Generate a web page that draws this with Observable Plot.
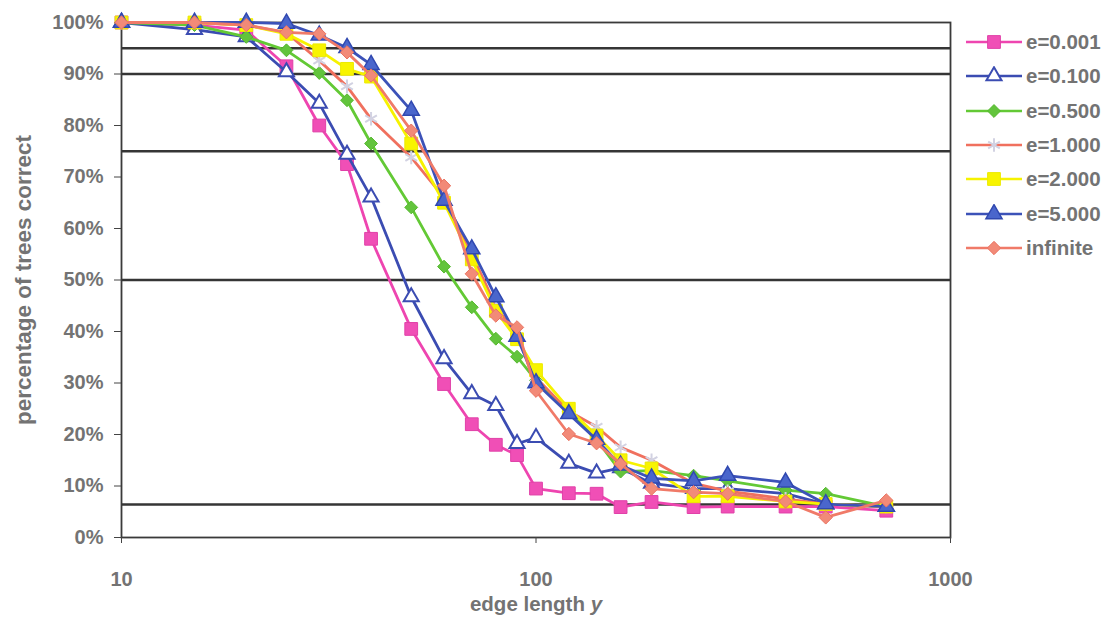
<!DOCTYPE html>
<html>
<head>
<meta charset="utf-8">
<script src="https://cdn.jsdelivr.net/npm/d3@7"></script>
<script src="https://cdn.jsdelivr.net/npm/@observablehq/plot@0.6"></script>
<style>
  html, body { margin: 0; padding: 0; background: #fff; }
  #wrap { position: relative; width: 1110px; height: 627px; }
  #legend { position: absolute; left: 962px; top: 25px; font-family: "Liberation Sans", Arial, sans-serif; font-weight: bold; font-size: 20.5px; color: #737373; }
  .row { display: flex; align-items: center; height: 34.3px; }
  .row svg { margin-right: 4px; }
</style>
</head>
<body>
<div id="wrap">
  <div id="chart"></div>
  <div id="legend"></div>
</div>
<script>
// ---- data ----
const edgeLengths = [10, 15, 20, 25, 30, 35, 40, 50, 60, 70, 80, 90, 100, 120, 140, 160, 190, 240, 290, 400, 500, 700];

const seriesNames = ["e=0.001", "e=0.100", "e=0.500", "e=1.000", "e=2.000", "e=5.000", "infinite"];

const e0001 = [100, 99.5, 98.5, 91.5, 80, 72.5, 58, 40.5, 29.8, 22, 18, 16, 9.5, 8.6, 8.5, 5.9, 6.9, 5.9, 6.0, 6.0, 6.0, 5.2];
const e0100 = [100, 98.6, 97.2, 90.4, 84.3, 74.4, 66.1, 46.7, 34.7, 27.9, 25.6, 18.2, 19.4, 14.4, 12.5, 13.5, 10.5, 9.5, 9.5, 8.5, 6.5, 6.0];
const e0500 = [100, 99.5, 97.2, 94.6, 90.2, 84.9, 76.5, 64.1, 52.6, 44.7, 38.6, 35.1, 30.5, 24.5, 19.0, 12.8, 13.0, 12.0, 11.0, 9.2, 8.5, 6.0];
const e1000 = [100, 100, 99.5, 98.0, 92.6, 87.6, 81.3, 73.8, 66.0, 55.0, 45.0, 39.0, 31.0, 24.5, 21.5, 17.5, 15.0, 10.5, 9.0, 7.5, 6.5, 6.0];
const e2000 = [100, 100, 99.5, 97.8, 94.6, 91.0, 89.5, 76.5, 65.0, 54.0, 44.0, 38.5, 32.5, 25.0, 19.8, 15.0, 13.4, 8.0, 8.0, 7.0, 6.5, 6.0];
const e5000 = [100, 100, 100, 99.8, 97.5, 95.1, 91.8, 82.9, 65.4, 56.0, 46.7, 39.0, 30.0, 24.0, 19.0, 14.0, 11.5, 11.0, 12.0, 10.7, 6.5, 6.0];
const eInf  = [100, 100, 99.5, 98.1, 97.8, 94.2, 89.7, 79.0, 68.3, 51.2, 43.1, 40.8, 28.5, 20.1, 18.3, 14.3, 9.5, 8.8, 8.5, 7.0, 3.9, 7.2];

const referenceLevels = [95, 90, 75, 50, 6.4];
const yTicks = [0, 10, 20, 30, 40, 50, 60, 70, 80, 90, 100];
const xTicks = [10, 100, 1000];

// ---- styles ----
const styles = [
  {line: "#ee45b0", symbol: "square",   fill: "#f04fb6", stroke: "#e040a8", r: 7.2, sw: 1},
  {line: "#3b4cb2", symbol: "triangle", fill: "#ffffff", stroke: "#3b4cb2", r: 5.6, sw: 2},
  {line: "#63c935", symbol: "diamond2", fill: "#62c43c", stroke: "#56b830", r: 5.8, sw: 1},
  {line: "#f0705e", symbol: "asterisk", fill: "none",    stroke: "#d2d2e2", r: 6.4, sw: 2},
  {line: "#f6f200", symbol: "square",   fill: "#f8f400", stroke: "#ecea00", r: 7.2, sw: 1},
  {line: "#3c52b8", symbol: "triangle", fill: "#4a66cc", stroke: "#3048b0", r: 6.0, sw: 1.5},
  {line: "#f07a68", symbol: "diamond2", fill: "#f28a78", stroke: "#ea7462", r: 6.0, sw: 1}
];

const allValues = [e0001, e0100, e0500, e1000, e2000, e5000, eInf];
const tables = allValues.map((vals, i) => vals.map((v, j) => ({x: edgeLengths[j], y: v, s: seriesNames[i]})));

const seriesMarks = tables.flatMap((t, i) => [
  Plot.line(t, {x: "x", y: "y", stroke: styles[i].line, strokeWidth: 2.8}),
  Plot.dot(t, {x: "x", y: "y", symbol: () => styles[i].symbol, r: styles[i].r, fill: styles[i].fill, stroke: styles[i].stroke, strokeWidth: styles[i].sw})
]);

const chart = Plot.plot({
  width: 1110,
  height: 627,
  marginLeft: 121,
  marginRight: 160,
  marginTop: 22,
  marginBottom: 90,
  style: {fontFamily: "'Liberation Sans', Arial, sans-serif", fontSize: "20px", fontWeight: "bold", color: "#737373", background: "#fff"},
  x: {type: "log", domain: [10, 1000]},
  y: {domain: [0, 100]},
  symbol: {type: "identity"},
  marks: [
    Plot.ruleY(referenceLevels, {stroke: "#353535", strokeWidth: 2.5}),
    Plot.frame({stroke: "#3a3a3a", strokeWidth: 1.8}),
    Plot.axisY({ticks: yTicks, tickFormat: d => d + "%", tickSize: 7, tickPadding: 11, stroke: "#444",
      label: "percentage of trees correct", labelAnchor: "center", labelOffset: 106, labelArrow: false}),
    Plot.axisX({ticks: xTicks, tickFormat: d => String(d), tickSize: 6, tickPadding: 28, stroke: "#444",
      label: "edge length y", labelAnchor: "center", labelOffset: 73, labelArrow: false}),
    ...seriesMarks
  ]
});
document.getElementById("chart").appendChild(chart);

// label tweaks: italic "y" in x label, larger y label
d3.select(chart).selectAll("text").each(function() {
  if (this.textContent === "edge length y") {
    this.textContent = "edge length ";
    this.setAttribute("font-size", "20.5px");
    const ts = document.createElementNS("http://www.w3.org/2000/svg", "tspan");
    ts.setAttribute("font-style", "italic");
    ts.textContent = "y";
    this.appendChild(ts);
  } else if (this.textContent === "percentage of trees correct") {
    this.setAttribute("font-size", "22.5px");
  }
});

// legend
const symMap = {square: d3.symbolSquare, triangle: d3.symbolTriangle, diamond2: d3.symbolDiamond2, asterisk: d3.symbolAsterisk};
const legend = d3.select("#legend");
seriesNames.forEach((name, i) => {
  const st = styles[i];
  const row = legend.append("div").attr("class", "row");
  const svg = row.append("svg").attr("width", 60).attr("height", 20);
  svg.append("line").attr("x1", 4).attr("x2", 60).attr("y1", 10).attr("y2", 10)
    .attr("stroke", st.line).attr("stroke-width", 2.5);
  svg.append("path").attr("transform", "translate(32,10)")
    .attr("d", d3.symbol(symMap[st.symbol], Math.PI * st.r * st.r)())
    .attr("fill", st.fill).attr("stroke", st.stroke).attr("stroke-width", st.sw);
  row.append("span").text(name);
});
</script>
</body>
</html>
